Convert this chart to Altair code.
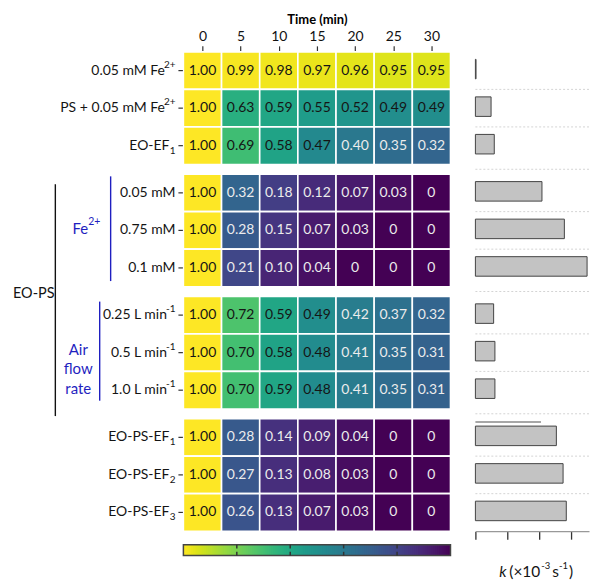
import altair as alt
import pandas as pd

# ---------------- data ----------------
times = [0, 5, 10, 15, 20, 25, 30]
row_base = ["0.05 mM Fe", "PS + 0.05 mM Fe", "EO-EF",
            "0.05 mM", "0.75 mM", "0.1 mM",
            "0.25 L min", "0.5 L min", "1.0 L min",
            "EO-PS-EF", "EO-PS-EF", "EO-PS-EF"]
row_sup = ["2+", "2+", "", "", "", "", "-1", "-1", "-1", "", "", ""]
row_sub = ["", "", "1", "", "", "", "", "", "", "1", "2", "3"]
row_group = [0, 0, 0, 1, 1, 1, 2, 2, 2, 3, 3, 3]
r_fe_only = [1.00, 0.99, 0.98, 0.97, 0.96, 0.95, 0.95]
r_ps_fe = [1.00, 0.63, 0.59, 0.55, 0.52, 0.49, 0.49]
r_eo_ef1 = [1.00, 0.69, 0.58, 0.47, 0.40, 0.35, 0.32]
r_fe_005 = [1.00, 0.32, 0.18, 0.12, 0.07, 0.03, 0]
r_fe_075 = [1.00, 0.28, 0.15, 0.07, 0.03, 0, 0]
r_fe_01 = [1.00, 0.21, 0.10, 0.04, 0, 0, 0]
r_air_025 = [1.00, 0.72, 0.59, 0.49, 0.42, 0.37, 0.32]
r_air_05 = [1.00, 0.70, 0.58, 0.48, 0.41, 0.35, 0.31]
r_air_10 = [1.00, 0.70, 0.59, 0.48, 0.41, 0.35, 0.31]
r_eops_ef1 = [1.00, 0.28, 0.14, 0.09, 0.04, 0, 0]
r_eops_ef2 = [1.00, 0.27, 0.13, 0.08, 0.03, 0, 0]
r_eops_ef3 = [1.00, 0.26, 0.13, 0.07, 0.03, 0, 0]
k_values = [0.02, 0.49, 0.59, 2.08, 2.78, 3.49, 0.57, 0.61, 0.61, 2.53, 2.74, 2.84]
k_extra_line = 2.05          # thin grey line drawn above the EO-PS-EF1 bar
k_ticks = [0, 1, 2, 3]
colorbar_ticks = [0.2, 0.4, 0.6, 0.8]

ratios = [r_fe_only, r_ps_fe, r_eo_ef1, r_fe_005, r_fe_075, r_fe_01,
          r_air_025, r_air_05, r_air_10, r_eops_ef1, r_eops_ef2, r_eops_ef3]

# ---------------- layout helpers ----------------
FONT = "Lato"
GAP = 0.257
BLUE = "#1f1fc0"
INK = "#141414"
pos = [i + g * GAP for i, g in enumerate(row_group)]
ymax = 12 + 3 * GAP
ncol = len(times)

yscale = alt.Scale(domain=[0, ymax], reverse=True, nice=False, zero=False)
xh = alt.Scale(domain=[0, ncol], range=[170, 438], nice=False, zero=False)
KMAX = 3.55
xb = alt.Scale(domain=[0, KMAX], range=[463, 577], nice=False, zero=False)
cscale = alt.Scale(scheme="viridis", domain=[0, 1])


def Y(f):
    return alt.Y(f, scale=yscale, axis=None)


def label_layer(df, x, size, align, dy=0, color=INK, style="normal"):
    return alt.Chart(df).mark_text(font=FONT, fontSize=size, align=align, dy=dy,
                                   color=color, fontStyle=style).encode(
        x=alt.value(x), y=Y("cy:Q"), text="t:N")


cells = []
for r, vals in enumerate(ratios):
    for c, v in enumerate(vals):
        cells.append(dict(c0=c, c1=c + 1, cx=c + 0.5, y0=pos[r], y1=pos[r] + 1,
                          cy=pos[r] + 0.5, value=v,
                          label="0" if v == 0 else f"{v:.2f}",
                          tc="#151515" if v > 0.45 else "#ececec"))
cells = pd.DataFrame(cells)

rows = pd.DataFrame(dict(base=row_base, sup=row_sup, sub=row_sub,
                         cy=[p + 0.5 for p in pos],
                         k=k_values, x0=[0] * 12,
                         b0=[p + 0.2 for p in pos], b1=[p + 0.72 for p in pos]))

top_axis = alt.Axis(orient="top", values=[c + 0.5 for c in range(ncol)],
                    labelExpr=f"{times}[round(datum.value - 0.5)]",
                    title="Time (min)", titleFontWeight="bold", titleFontSize=13,
                    titleFont=FONT, titlePadding=3, labelFont=FONT, labelFontSize=14,
                    labelColor="#111", labelPadding=2, labelAngle=0,
                    domain=False, grid=False, tickColor="#333", tickSize=6, tickWidth=1.2)

heat = alt.Chart(cells).mark_rect(stroke="white", strokeWidth=1.6).encode(
    x=alt.X("c0:Q", scale=xh, axis=top_axis), x2="c1:Q",
    y=Y("y0:Q"), y2="y1:Q",
    color=alt.Color("value:Q", scale=cscale, legend=None))

heat_text = alt.Chart(cells).mark_text(font=FONT, fontSize=14).encode(
    x=alt.X("cx:Q", scale=xh), y=Y("cy:Q"), text="label:N",
    color=alt.Color("tc:N", scale=None))

# row labels (base text + raised / lowered suffix)
RX = 162
LS = 14
label_layers = []
plain = rows[(rows.sup == "") & (rows["sub"] == "")].rename(columns={"base": "t"})
label_layers.append(label_layer(plain, RX, LS, "right"))
fe = rows[rows.sup == "2+"]
label_layers.append(label_layer(fe.rename(columns={"base": "t"}), RX - 10.5, LS, "right"))
label_layers.append(label_layer(fe.rename(columns={"sup": "t"}), RX, 10, "right", dy=-6))
mn = rows[rows.sup == "-1"]
label_layers.append(label_layer(mn.rename(columns={"base": "t"}), RX - 8.5, LS, "right"))
label_layers.append(label_layer(mn.rename(columns={"sup": "t"}), RX, 10, "right", dy=-6))
sb = rows[rows["sub"] != ""]
label_layers.append(label_layer(sb.rename(columns={"base": "t"}), RX - 6, LS, "right"))
label_layers.append(label_layer(sb.rename(columns={"sub": "t"}), RX, 10, "right", dy=5))

row_ticks = alt.Chart(rows).mark_rule(color="#333", strokeWidth=1.2).encode(
    x=alt.value(165), x2=alt.value(169.5), y=Y("cy:Q"))

# colorbar (drawn from the same colour scale)
n = 140
cb = pd.DataFrame(dict(x0=[ncol * i / n for i in range(n)],
                       x1=[min(ncol, ncol * (i + 1.6) / n) for i in range(n)],
                       v=[1 - (i + 0.5) / n for i in range(n)]))
CB0, CB1 = 13.13, 13.42
cb["y0"] = CB0
cb["y1"] = CB1
colorbar = alt.Chart(cb).mark_rect(strokeWidth=0).encode(
    x=alt.X("x0:Q", scale=xh), x2="x1:Q", y=Y("y0:Q"), y2="y1:Q",
    color=alt.Color("v:Q", scale=cscale, legend=None))
cb_frame = alt.Chart(pd.DataFrame(dict(x0=[0], x1=[ncol], y0=[CB0], y1=[CB1]))).mark_rect(
    fillOpacity=0, stroke="#444", strokeWidth=1.5).encode(
    x=alt.X("x0:Q", scale=xh), x2="x1:Q", y=Y("y0:Q"), y2="y1:Q")
cbt = pd.DataFrame(dict(x=[ncol * (1 - t) for t in colorbar_ticks] * 2,
                        y0=[CB0] * 4 + [CB1 - 0.1] * 4,
                        y1=[CB0 + 0.1] * 4 + [CB1] * 4))
cb_ticks = alt.Chart(cbt).mark_rule(color="#333", strokeWidth=1.5).encode(
    x=alt.X("x:Q", scale=xh), y=Y("y0:Q"), y2="y1:Q")

# group annotations
g2_top, g2_bot = pos[3], pos[5] + 1
g3_top, g3_bot = pos[6], pos[8] + 1
one = lambda t, y: pd.DataFrame(dict(t=[t], cy=[y]))
ann_black = label_layer(one("EO-PS", (g2_top + g3_bot) / 2 + 0.06), -1, 14.5, "left")
ann_vline = alt.Chart(pd.DataFrame(dict(y0=[g2_top + 0.27], y1=[g3_bot + 0.19]))).mark_rule(
    color="#111", strokeWidth=1.4).encode(x=alt.value(41.5), y=Y("y0:Q"), y2="y1:Q")
fe_y = (g2_top + g2_bot) / 2 - 0.03
ann_fe = label_layer(one("Fe", fe_y), 74.5, 15, "right", color=BLUE)
ann_fe_sup = label_layer(one("2+", fe_y), 74.5, 10.5, "left", dy=-7, color=BLUE)
ann_fe_line = alt.Chart(pd.DataFrame(dict(y0=[g2_top + 0.06], y1=[g2_bot - 0.15]))).mark_rule(
    color=BLUE, strokeWidth=1.4).encode(x=alt.value(97), y=Y("y0:Q"), y2="y1:Q")
ann_air = alt.Chart(pd.DataFrame(dict(t=["Air\nflow\nrate"], y=[(g3_top + g3_bot) / 2 - 0.07]))).mark_text(
    font=FONT, fontSize=15, color=BLUE, lineBreak="\n", lineHeight=19.5).encode(
    x=alt.value(64.5), y=Y("y:Q"), text="t:N")
ann_air_line = alt.Chart(pd.DataFrame(dict(y0=[g3_top + 0.14], y1=[g3_bot - 0.22]))).mark_rule(
    color=BLUE, strokeWidth=1.4).encode(x=alt.value(86), y=Y("y0:Q"), y2="y1:Q")

left = alt.layer(heat, heat_text, *label_layers, row_ticks, colorbar, cb_frame, cb_ticks,
                 ann_black, ann_vline, ann_fe, ann_fe_sup, ann_fe_line, ann_air, ann_air_line)

# ---------------- bar panel ----------------
seps = pd.DataFrame(dict(y=[(pos[r] + 1 + pos[r + 1]) / 2 for r in range(11)],
                         x0=[0] * 11, x1=[KMAX] * 11))
grid = alt.Chart(seps).mark_rule(color="#d4d4d4", strokeDash=[2, 2], strokeWidth=1).encode(
    x=alt.X("x0:Q", scale=xb), x2="x1:Q", y=Y("y:Q"))

bot_axis = alt.Axis(orient="bottom", values=k_ticks, labels=False, title=None,
                    grid=False, domainColor="#999", domainWidth=1.2,
                    tickColor="#333", tickSize=8, tickWidth=1.3)
bars = alt.Chart(rows).mark_rect(fill="#c3c3c3", stroke="#444", strokeWidth=1).encode(
    x=alt.X("x0:Q", scale=xb, axis=bot_axis), x2="k:Q", y=Y("b0:Q"), y2="b1:Q")

extra = alt.Chart(pd.DataFrame(dict(x0=[0], x1=[k_extra_line], y=[pos[9] + 0.09]))).mark_rule(
    color="#8a8a8a", strokeWidth=1.5).encode(x=alt.X("x0:Q", scale=xb), x2="x1:Q", y=Y("y:Q"))


def title_piece(t, x, size, dy=0, style="normal"):
    return alt.Chart(pd.DataFrame(dict(t=[t]))).mark_text(
        font=FONT, fontSize=size, fontStyle=style, align="left", dy=dy, color=INK).encode(
        x=alt.value(x), y=alt.value(522), text="t:N")


k_title = [title_piece("k", 487, 15.5, style="italic"),
           title_piece("(×10", 497, 15.5),
           title_piece("-3", 529, 9.5, dy=-6),
           title_piece("s", 540, 15.5),
           title_piece("-1", 547, 9.5, dy=-6),
           title_piece(")", 557, 15.5)]

right = alt.layer(grid, bars, extra, *k_title)

chart = alt.layer(left, right).resolve_scale(x="independent").resolve_axis(
    x="independent").properties(
    width=577, height=481,
    padding={"left": 5, "top": 5, "right": 0, "bottom": 5}
).configure_view(strokeWidth=0)

chart.save("out.html", embed_options={"renderer": "svg", "actions": False})
